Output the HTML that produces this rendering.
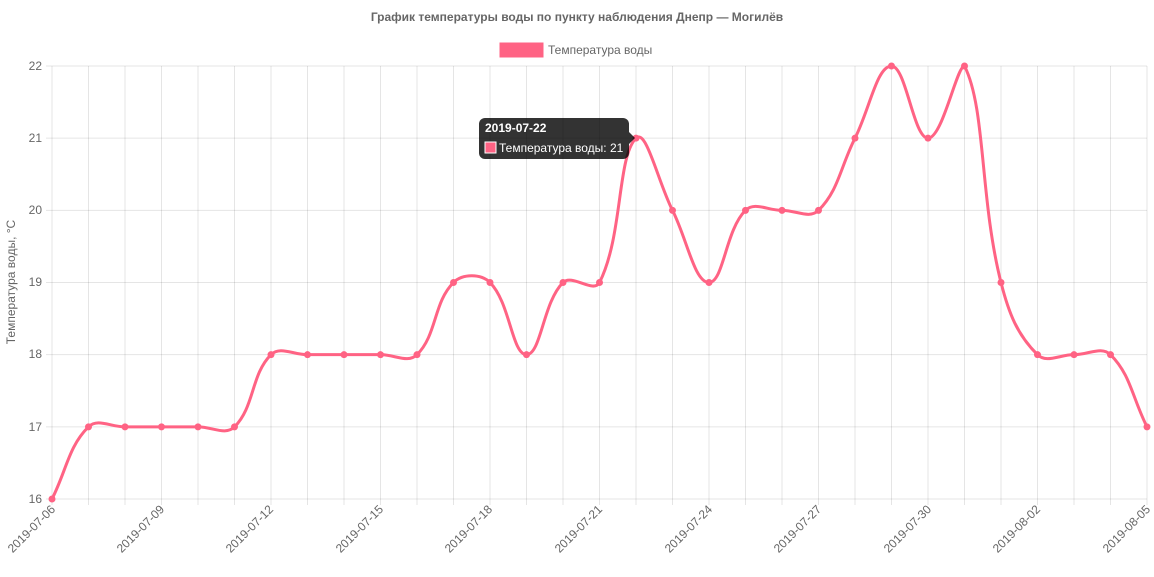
<!DOCTYPE html>
<html><head><meta charset="utf-8"><style>
body{margin:0;background:#fff;width:1154px;height:577px;overflow:hidden}
svg{display:block;font-family:"Liberation Sans",Arial,sans-serif}
</style></head><body>
<svg id="s" width="1154" height="577" xmlns="http://www.w3.org/2000/svg">
<g id="grid"></g>
<text x="577" y="21" text-anchor="middle" font-size="12" font-weight="bold" fill="#666">График температуры воды по пункту наблюдения Днепр — Могилёв</text>
<rect x="500" y="43" width="43" height="14" fill="rgba(255,99,132,0.5)" stroke="rgb(255,99,132)" stroke-width="1"/>
<rect x="500" y="43" width="43" height="14" fill="rgb(255,99,132)"/>
<text x="548" y="54" font-size="12" fill="#666">Температура воды</text>
<text transform="translate(15,282) rotate(-90)" text-anchor="middle" font-size="12" fill="#666">Температура воды, °C</text>
<g font-size="12" fill="#666" text-anchor="end">
<text x="42" y="70">22</text><text x="42" y="142">21</text><text x="42" y="214">20</text><text x="42" y="286">19</text><text x="42" y="358">18</text><text x="42" y="431">17</text><text x="42" y="503">16</text>
</g>
<g font-size="12" fill="#666" text-anchor="end">
<text transform="translate(56,510) rotate(-45)">2019-07-06</text>
<text transform="translate(165,510) rotate(-45)">2019-07-09</text>
<text transform="translate(274,510) rotate(-45)">2019-07-12</text>
<text transform="translate(384,510) rotate(-45)">2019-07-15</text>
<text transform="translate(493,510) rotate(-45)">2019-07-18</text>
<text transform="translate(603,510) rotate(-45)">2019-07-21</text>
<text transform="translate(713,510) rotate(-45)">2019-07-24</text>
<text transform="translate(822,510) rotate(-45)">2019-07-27</text>
<text transform="translate(932,510) rotate(-45)">2019-07-30</text>
<text transform="translate(1041,510) rotate(-45)">2019-08-02</text>
<text transform="translate(1151,510) rotate(-45)">2019-08-05</text>
</g>
<path id="line" fill="none" stroke="rgb(255,99,132)" stroke-width="3"/>
<g id="pts" fill="rgb(255,99,132)"></g>
<g>
<rect x="479" y="118" width="150" height="41" rx="6" fill="rgba(0,0,0,0.8)"/>
<path d="M629,132 L635,138 L629,144 Z" fill="rgba(0,0,0,0.8)"/>
<text x="485" y="132" font-size="12" font-weight="bold" fill="#fff">2019-07-22</text>
<rect x="485" y="142" width="11" height="11" fill="rgb(255,99,132)" stroke="#fff" stroke-width="1"/>
<text x="499" y="152" font-size="12" fill="#fff">Температура воды: 21</text>
</g>
</svg>
<script>
var d=[16,17,17,17,17,17,18,18,18,18,18,19,19,18,19,19,21,20,19,20,20,20,21,22,21,22,19,18,18,18,17];
var x0=52,dx=36.5,y22=66,dy=72.17,ns="http://www.w3.org/2000/svg";
var g=document.getElementById('grid'),h='';
for(var i=0;i<31;i++){var x=x0+i*dx;h+='<line x1="'+x+'" y1="66" x2="'+x+'" y2="505" stroke="rgba(0,0,0,0.1)"/>';}
for(var v=0;v<=6;v++){var y=y22+v*dy;h+='<line x1="46" y1="'+y+'" x2="1147" y2="'+y+'" stroke="rgba(0,0,0,0.1)"/>';}
g.innerHTML=h;
var P=d.map(function(v,i){return[x0+i*dx,y22+(22-v)*dy]});
var C=[];
for(var i=0;i<P.length;i++){var p=P[i],a=P[i-1]||p,b=P[i+1]||p;
var d01=Math.hypot(p[0]-a[0],p[1]-a[1]),d12=Math.hypot(b[0]-p[0],b[1]-p[1]);
var s01=d01/((d01+d12)||1),s12=d12/((d01+d12)||1),fa=0.4*s01,fb=0.4*s12;
var c1=[p[0]-fa*(b[0]-a[0]),p[1]-fa*(b[1]-a[1])],c2=[p[0]+fb*(b[0]-a[0]),p[1]+fb*(b[1]-a[1])];
[c1,c2].forEach(function(c){c[1]=Math.max(66,Math.min(499,c[1]));c[0]=Math.max(52,Math.min(1147,c[0]));});
C.push([c1,c2]);}
var s='M'+P[0][0]+','+P[0][1];
for(var i=1;i<P.length;i++){s+=' C'+C[i-1][1][0]+','+C[i-1][1][1]+' '+C[i][0][0]+','+C[i][0][1]+' '+P[i][0]+','+P[i][1];}
document.getElementById('line').setAttribute('d',s);
var q='';P.forEach(function(p){q+='<circle cx="'+p[0]+'" cy="'+p[1]+'" r="3.5"/>';});
document.getElementById('pts').innerHTML=q;
</script>
</body></html>
